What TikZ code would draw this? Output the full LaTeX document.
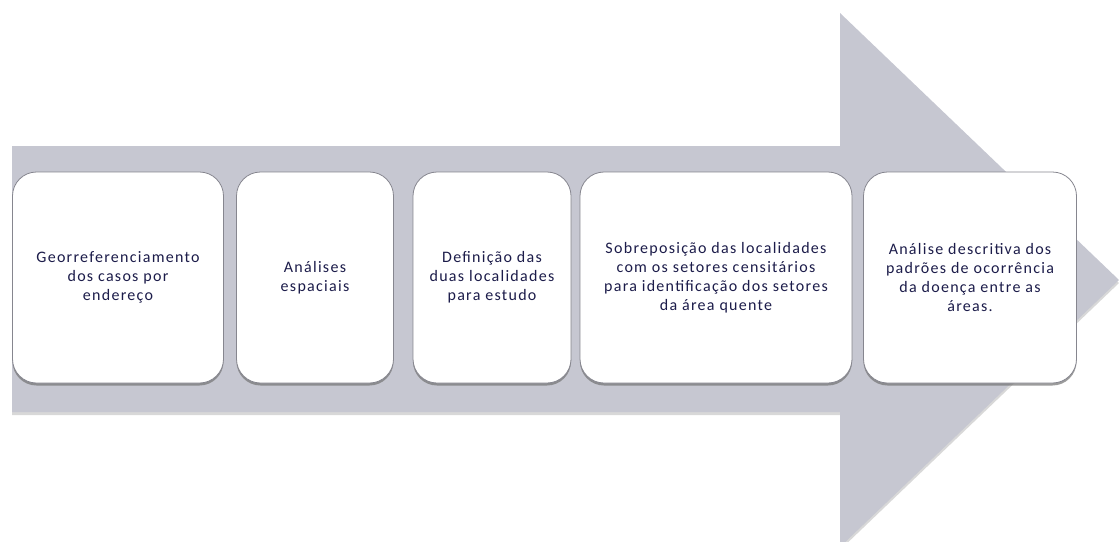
\documentclass[tikz,border=0pt]{standalone}
\usepackage{fontspec}
\setmainfont[LetterSpace=8]{Carlito}
\usetikzlibrary{shadows}
\definecolor{arrowgray}{HTML}{C6C7D1}
\definecolor{boxedge}{HTML}{86868F}
\definecolor{textnavy}{HTML}{1C1C4A}
\tikzset{
  stepbox/.style={draw=boxedge, line width=0.8pt, fill=white, rounded corners=24pt,
    drop shadow={shadow xshift=0pt, shadow yshift=-2.5pt, fill=black!55, opacity=0.7},
    align=center, text=textnavy, font=\fontsize{16}{19}\selectfont,
    inner sep=0pt},
}
\begin{document}
\begin{tikzpicture}[x=1pt, y=-1pt]
  \useasboundingbox (0,0) rectangle (1119,541);
  \clip (0,0) rectangle (1119,541);
  \fill[white] (0,0) rectangle (1119,541);
  % big process arrow
  \fill[black!25, opacity=0.6] (12,149) -- (840,149) -- (840,16) -- (1119,283) -- (840,550) -- (840,415) -- (12,415) -- cycle;
  \fill[arrowgray] (12,146) -- (840,146) -- (840,13) -- (1119,280) -- (840,547) -- (840,412) -- (12,412) -- cycle;
  % process steps
  \node[stepbox, minimum width=211pt, minimum height=211pt] (s1) at (118,277.5)
    {Georreferenciamento\\dos casos por\\endereço};
  \node[stepbox, minimum width=157pt, minimum height=211pt] (s2) at (315,277.5)
    {Análises\\espaciais};
  \node[stepbox, minimum width=158pt, minimum height=211pt] (s3) at (492,277.5)
    {Definição das\\duas localidades\\para estudo};
  \node[stepbox, minimum width=272pt, minimum height=211pt] (s4) at (716,277.5)
    {Sobreposição das localidades\\com os setores censitários\\para identificação dos setores\\da área quente};
  \node[stepbox, minimum width=213pt, minimum height=211pt] (s5) at (970,277.5)
    {Análise descritiva dos\\padrões de ocorrência\\da doença entre as\\áreas.};
\end{tikzpicture}
\end{document}
